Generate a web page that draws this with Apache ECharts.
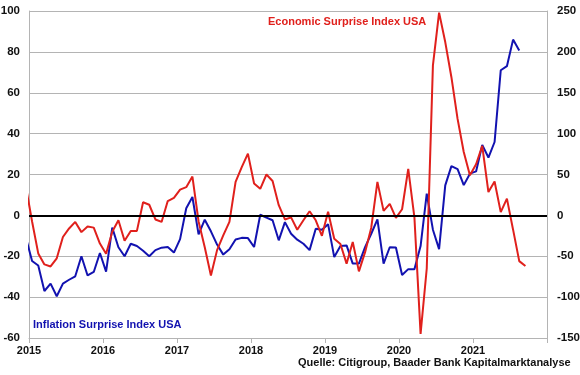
<!DOCTYPE html>
<html>
<head>
<meta charset="utf-8">
<script src="https://cdn.jsdelivr.net/npm/echarts@6/dist/echarts.min.js"></script>
<style>
html, body { margin: 0; padding: 0; background: #fff; }
#chart { width: 580px; height: 375px; }
</style>
</head>
<body>
<div id="chart"></div>
<script>
// monthly readings, first one (Dec 2014) sits just left of the axis and gets clipped
var months = [
    '2014-12',
    '2015-01','2015-02','2015-03','2015-04','2015-05','2015-06','2015-07','2015-08','2015-09','2015-10','2015-11','2015-12',
    '2016-01','2016-02','2016-03','2016-04','2016-05','2016-06','2016-07','2016-08','2016-09','2016-10','2016-11','2016-12',
    '2017-01','2017-02','2017-03','2017-04','2017-05','2017-06','2017-07','2017-08','2017-09','2017-10','2017-11','2017-12',
    '2018-01','2018-02','2018-03','2018-04','2018-05','2018-06','2018-07','2018-08','2018-09','2018-10','2018-11','2018-12',
    '2019-01','2019-02','2019-03','2019-04','2019-05','2019-06','2019-07','2019-08','2019-09','2019-10','2019-11','2019-12',
    '2020-01','2020-02','2020-03','2020-04','2020-05','2020-06','2020-07','2020-08','2020-09','2020-10','2020-11','2020-12',
    '2021-01','2021-02','2021-03','2021-04','2021-05','2021-06','2021-07','2021-08','2021-09'
];

// Inflation Surprise Index USA (left axis), Dec 2014 .. Aug 2021
var inflation = [
    -11,
    -22.3, -24.5, -37, -33.4, -39.6, -33.4, -31.5, -29.8, -20, -29.4, -27.7, -18.4,
    -27.5, -6, -15.6, -20, -13.9, -15, -17.3, -20, -17, -15.8, -15.5, -18.2,
    -11.6, 3.5, 9, -9.3, -2.1, -7.8, -14.3, -19.2, -16.6, -11.8, -11, -11.1,
    -15.5, 0.3, -1.1, -2.4, -12.2, -3.3, -9, -11.9, -13.9, -17, -6.5, -7,
    -4.3, -20.4, -15, -14.7, -23.6, -23.6, -15.5, -9, -2, -23.6, -15.6, -15.7,
    -29.2, -26.3, -26.4, -15, 10.6, -7, -16.5, 14.7, 24.1, 22.6, 14.8, 20.4,
    21.5, 34.5, 28.3, 35.9, 71, 73, 86, 80.7
];

// Economic Surprise Index USA (right axis), Dec 2014 .. Sep 2021
var economic = [
    35,
    -7.5, -46.5, -60, -62.5, -52.5, -26.5, -16, -8, -20.5, -13.5, -15, -34.5,
    -47, -20, -6, -31, -19, -19, 16, 13, -5, -8, 17.5, 21.5,
    31.5, 34.5, 47.5, -7.5, -39, -73.5, -42.5, -24.5, -8, 41, 59, 75.5,
    39, 32.5, 50, 42, 12.5, -5, -2.5, -17.5, -6, 5, -6, -25,
    4.5, -28.5, -35, -59, -32.5, -68.5, -45, -15, 41, 5.5, 14, -3,
    7.5, 57, -2.5, -145, -65, 183.5, 248, 212, 169, 118, 77.5, 49,
    62.5, 85, 28.5, 41.5, 4, 20.5, -17.5, -56, -62
];

var xMin = 2015, xMax = 2022;
var leftMin = -60, leftMax = 100, leftStep = 20;
var rightMin = -150, rightMax = 250, rightStep = 50;

var FONT = '"Liberation Sans", Arial, sans-serif';

// month string -> middle of that month as decimal year
function monthPos(m) {
    var p = m.split('-');
    return +p[0] + (+p[1] - 0.5) / 12;
}
function pairs(vals) {
    var out = [];
    for (var i = 0; i < vals.length; i++) {
        out.push([monthPos(months[i]), vals[i]]);
    }
    return out;
}

var chart = echarts.init(document.getElementById('chart'));
var gridColor = '#b4b4b4';
var labelStyle = { color: '#111', fontFamily: FONT, fontWeight: 'bold', fontSize: 11.5 };

var option = {
    animation: false,
    backgroundColor: '#fff',
    grid: { left: 29, right: 33, top: 11, bottom: 37, containLabel: false, outerBoundsMode: 'none' },
    xAxis: {
        type: 'value',
        min: xMin,
        max: xMax,
        interval: 1,
        axisLine: { show: true, onZero: false, lineStyle: { color: gridColor, width: 1 } },
        axisTick: { show: true, length: 5, lineStyle: { color: gridColor } },
        splitLine: { show: false },
        axisLabel: {
            margin: 7,
            color: '#111', fontFamily: FONT, fontWeight: 'bold', fontSize: 11,
            formatter: function (v) { return v >= xMax ? '' : String(v); }
        }
    },
    yAxis: [{
        type: 'value',
        min: leftMin,
        max: leftMax,
        interval: leftStep,
        axisLine: { show: true, lineStyle: { color: gridColor } },
        axisTick: { show: false },
        splitLine: { show: true, lineStyle: { color: gridColor, width: 1 } },
        axisLabel: Object.assign({ margin: 9 }, labelStyle)
    }, {
        type: 'value',
        min: rightMin,
        max: rightMax,
        interval: rightStep,
        position: 'right',
        axisLine: { show: true, lineStyle: { color: gridColor } },
        axisTick: { show: false },
        splitLine: { show: false },
        axisLabel: Object.assign({ margin: 10 }, labelStyle)
    }],
    series: [{
        name: 'Inflation Surprise Index USA',
        type: 'line',
        yAxisIndex: 0,
        data: pairs(inflation),
        showSymbol: false,
        symbol: 'none',
        lineStyle: { color: '#1212b0', width: 2 },
        markLine: {
            silent: true,
            symbol: 'none',
            label: { show: false },
            lineStyle: { color: '#000', width: 2, type: 'solid' },
            data: [{ yAxis: 0 }]
        },
        z: 2
    }, {
        name: 'Economic Surprise Index USA',
        type: 'line',
        yAxisIndex: 1,
        data: pairs(economic),
        showSymbol: false,
        symbol: 'none',
        lineStyle: { color: '#e0201c', width: 2 },
        z: 3
    }],
    graphic: [{
        type: 'text', left: 268, top: 16,
        style: { text: 'Economic Surprise Index USA', fill: '#e0201c', font: 'bold 11px ' + FONT }
    }, {
        type: 'text', left: 33, top: 319,
        style: { text: 'Inflation Surprise Index USA', fill: '#1212b0', font: 'bold 11px ' + FONT }
    }, {
        type: 'text', left: 298, top: 357,
        style: { text: 'Quelle: Citigroup, Baader Bank Kapitalmarktanalyse', fill: '#111', font: 'bold 11px ' + FONT }
    }]
};

chart.setOption(option);
window.onresize = function () {
    chart.resize();
};
</script>
</body>
</html>
